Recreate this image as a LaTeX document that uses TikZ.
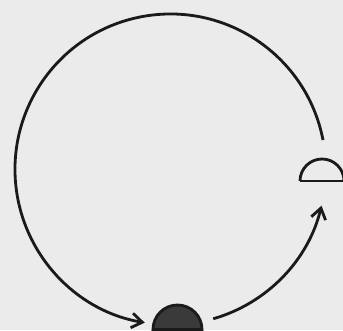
\documentclass[tikz,border=0pt]{standalone}
\usepackage{tikz}
\usetikzlibrary{arrows.meta,calc}
\definecolor{paper}{HTML}{EBEBEB}
\definecolor{ink}{HTML}{1A1A1A}
\definecolor{dot}{HTML}{3A3A3A}
\tikzset{
  ring/.style={draw=ink, line width=2.4pt},
  flow/.style={ring, -{Straight Barb[length=3.2mm, width=4.4mm, line width=2.4pt]}},
  cup/.style={draw=ink, line width=2.4pt}
}

\begin{document}
\begin{tikzpicture}[x=0.03cm, y=0.03cm]
\fill[paper] (0,0) rectangle (343,330);
\useasboundingbox (0,0) rectangle (343,330);
\coordinate (o) at (170.4,160.6);
\coordinate (sink) at (177.5,0.5);
\coordinate (src) at (322,149);
% filled half disc at the bottom, open one on the right
\filldraw[cup, fill=dot] ($(sink)+(-24.5,0)$) arc[start angle=180, end angle=0, radius=24.5] -- cycle;
\draw[cup] ($(src)+(-22,0)$) arc[start angle=180, end angle=0, radius=22];
\draw[cup] ($(src)+(-22,0)$) -- ($(src)+(24,0)$);
% the two arcs
\draw[flow] ($(o)+(10.9:155.4)$) arc[start angle=10.9, end angle=260.5, radius=155.4];
\draw[flow] ($(o)+(-74:155.4)$) arc[start angle=-74, end angle=-13.5, radius=155.4];
\end{tikzpicture}
\end{document}
